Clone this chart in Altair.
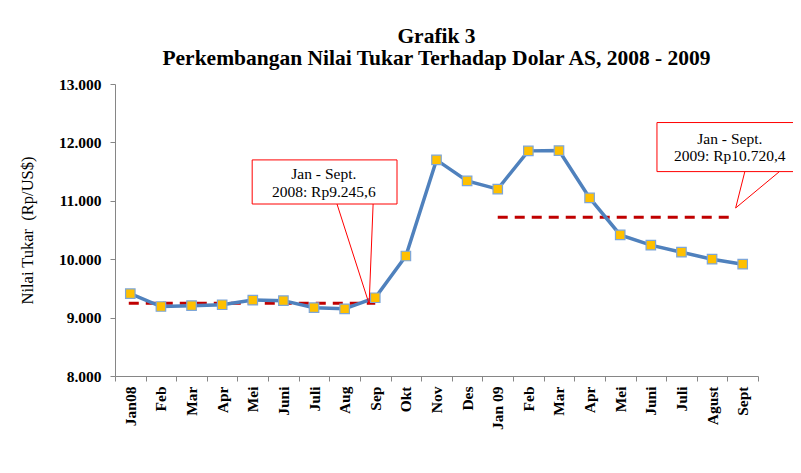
import altair as alt
import pandas as pd

# ---- data ----
months = ["Jan08", "Feb", "Mar", "Apr", "Mei", "Juni", "Juli", "Aug", "Sep", "Okt",
          "Nov", "Des", "Jan 09", "Feb", "Mar", "Apr", "Mei", "Juni", "Juli", "Agust", "Sept"]
rates = [9410, 9190, 9205, 9220, 9300, 9290, 9170, 9150, 9340, 10055,
         11700, 11340, 11200, 11855, 11860, 11050, 10415, 10240, 10120, 10000, 9915]

avg_start = [-0.05, 12]
avg_end = [8, 19.75]
avg_value = [9245.6, 10720.4]

y_ticks = [8000, 9000, 10000, 11000, 12000, 13000]

# callout boxes (index / value space)
box_x = [3.98, 17.2]
box_x2 = [8.71, 22.5]
box_y = [11700, 12340]
box_y2 = [10945, 11500]
box_line1 = ["Jan - Sept.", "Jan - Sept."]
box_line2 = ["2008: Rp9.245,6", "2009: Rp10.720,4"]
box_tx = [6.32, 19.58]
box_ty1 = [11460, 12060]
box_ty2 = [11150, 11765]

# callout pointers
ptr_grp = ["a", "a", "a", "b", "b", "b"]
ptr_ord = [0, 1, 2, 0, 1, 2]
ptr_x = [6.75, 7.8, 7.93, 20.07, 19.77, 21.2]
ptr_y = [10945, 9233, 10945, 11500, 10877, 11500]

# ---- tables ----
df = pd.DataFrame({"idx": list(range(len(months))), "month": months, "rate": rates})
avg_df = pd.DataFrame({"x": avg_start, "x2": avg_end, "y": avg_value})
box_df = pd.DataFrame({"x": box_x, "x2": box_x2, "y": box_y, "y2": box_y2,
                       "l1": box_line1, "l2": box_line2, "tx": box_tx,
                       "ty1": box_ty1, "ty2": box_ty2})
ptr_df = pd.DataFrame({"g": ptr_grp, "o": ptr_ord, "x": ptr_x, "y": ptr_y})

SERIF = "Liberation Serif"
GRAY = "#868686"
label_arr = "[" + ",".join("'" + m + "'" for m in months) + "]"

yscale = alt.Scale(domain=[8000, 13000], nice=False, zero=False)
xq = alt.Scale(domain=[-0.5, len(months) - 0.5], nice=False, zero=False)

# axis carrier layer (band scale, ticks between categories)
axis_layer = alt.Chart(df).mark_point(opacity=0).encode(
    x=alt.X("idx:O",
            scale=alt.Scale(type="band", paddingInner=0, paddingOuter=0),
            axis=alt.Axis(title=None, labelExpr=label_arr + "[datum.value]",
                          labelAngle=270, labelFont=SERIF, labelFontSize=15.5,
                          labelFontWeight="bold", labelColor="#000000",
                          labelPadding=5, tickBand="extent", tickSize=5,
                          tickColor=GRAY, domainColor=GRAY, grid=False)),
    y=alt.Y("rate:Q", scale=yscale,
            axis=alt.Axis(title="Nilai Tukar\u00a0 (Rp/US$)", values=y_ticks,
                          labelExpr="replace(format(datum.value, ',.0f'), ',', '.')",
                          labelFont=SERIF, labelFontSize=15.5, labelFontWeight="bold",
                          labelColor="#000000", labelPadding=9,
                          titleFont=SERIF, titleFontSize=16.5, titleFontWeight="normal",
                          titleColor="#000000", titlePadding=23,
                          tickSize=5, tickColor=GRAY, domainColor=GRAY, grid=False)),
)

line = alt.Chart(df).mark_line(color="#4F81BD", strokeWidth=3.5).encode(
    x=alt.X("idx:Q", scale=xq, axis=None),
    y=alt.Y("rate:Q", scale=yscale),
)

pts = alt.Chart(df).mark_point(shape="square", filled=True, fill="#FFC000",
                               stroke="#7EA6D8", strokeWidth=1.2, opacity=1, size=90).encode(
    x=alt.X("idx:Q", scale=xq, axis=None),
    y=alt.Y("rate:Q", scale=yscale),
)

avg = alt.Chart(avg_df).mark_rule(color="#C00000", strokeWidth=3, strokeDash=[10, 7]).encode(
    x=alt.X("x:Q", scale=xq, axis=None),
    x2="x2:Q",
    y=alt.Y("y:Q", scale=yscale),
)

boxes = alt.Chart(box_df).mark_rect(fill="white", stroke="#FF0000", strokeWidth=1,
                                    clip=False).encode(
    x=alt.X("x:Q", scale=xq, axis=None),
    x2="x2:Q",
    y=alt.Y("y:Q", scale=yscale),
    y2="y2:Q",
)

ptrs = alt.Chart(ptr_df).mark_line(color="#FF0000", strokeWidth=1).encode(
    x=alt.X("x:Q", scale=xq, axis=None),
    y=alt.Y("y:Q", scale=yscale),
    detail="g:N",
    order="o:Q",
)

txt1 = alt.Chart(box_df).mark_text(font=SERIF, fontSize=15.5, color="#000000").encode(
    x=alt.X("tx:Q", scale=xq, axis=None),
    y=alt.Y("ty1:Q", scale=yscale),
    text="l1:N",
)
txt2 = alt.Chart(box_df).mark_text(font=SERIF, fontSize=15.5, color="#000000").encode(
    x=alt.X("tx:Q", scale=xq, axis=None),
    y=alt.Y("ty2:Q", scale=yscale),
    text="l2:N",
)

chart = alt.layer(axis_layer, avg, line, pts, boxes, ptrs, txt1, txt2).resolve_scale(
    x="independent"
).properties(
    width=643,
    height=292,
    autosize=alt.AutoSizeParams(type="none"),
    padding={"left": 107, "top": 76, "right": 35, "bottom": 80},
    title=alt.TitleParams(["Grafik 3", "Perkembangan Nilai Tukar Terhadap Dolar AS, 2008 - 2009"],
                          font=SERIF, fontSize=21.5, fontWeight="bold", color="#000000",
                          anchor="middle", frame="group", offset=8, lineHeight=22),
).configure_view(stroke=None)

chart.save("out.html", embed_options={"renderer": "svg", "actions": False})
